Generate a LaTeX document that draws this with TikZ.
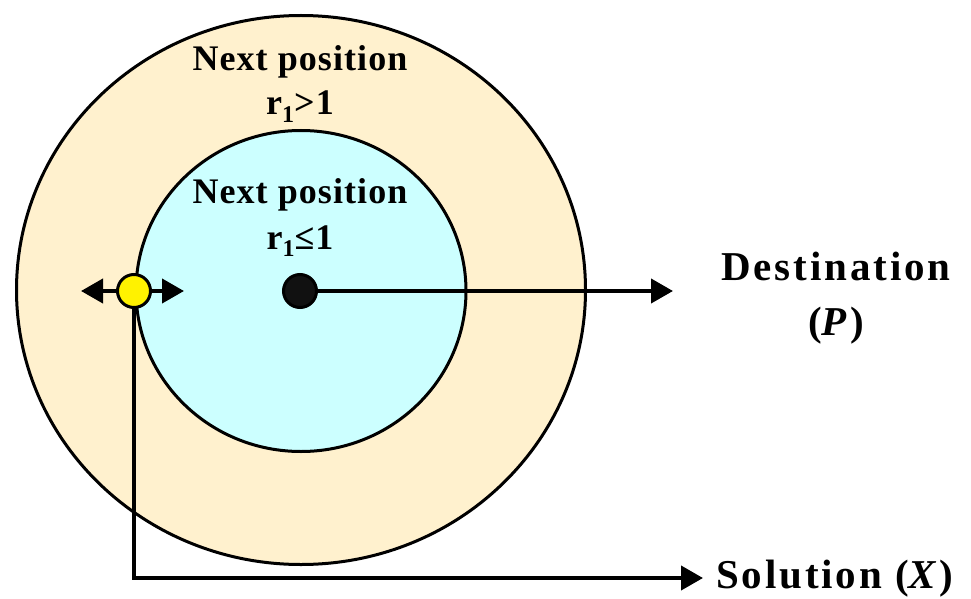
\documentclass[tikz,border=0pt]{standalone}
\usepackage{fontspec}
\setmainfont{Liberation Serif}
\usetikzlibrary{shapes.geometric,arrows.meta}
\definecolor{cream}{RGB}{255,241,206}
\definecolor{lightcyan}{RGB}{204,255,255}
\definecolor{dotblack}{RGB}{17,17,17}
\newcommand\subone{\raisebox{-7pt}{\fontsize{24}{24}\selectfont 1}}
\begin{document}
\begin{tikzpicture}[x=1pt,y=-1pt,
  ring/.style={draw=black,line width=3pt,ellipse,inner sep=0pt},
  dot/.style={circle,draw=black,line width=3pt,inner sep=0pt,minimum size=33pt},
  conn/.style={line width=4pt,-{Triangle[length=22pt,width=24pt]}},
  lbl/.style={font=\fontsize{36}{36}\selectfont\bfseries\addfontfeature{LetterSpace=3},anchor=base,inner sep=0pt},
  big/.style={font=\fontsize{41}{41}\selectfont\bfseries\addfontfeature{LetterSpace=7},anchor=base,inner sep=0pt}]
\useasboundingbox (0,0) rectangle (971,599);
\node[ring,fill=cream,minimum width=569pt,minimum height=549pt] (outer) at (301,290) {};
\node[ring,fill=lightcyan,minimum width=330pt,minimum height=321pt] (inner) at (301,291) {};
\node[dot,fill=dotblack] (dest) at (300,291) {};
\node[dot,fill=yellow] (sol) at (134,291) {};
\coordinate (destend) at (673,291);
\coordinate (lefttip) at (81,291);
\coordinate (righttip) at (184,291);
\coordinate (corner) at (134,578);
\coordinate (solend) at (703,578);
\draw[conn] (dest.east) -- (destend);
\draw[conn] (sol.west) -- (lefttip);
\draw[conn] (sol.east) -- (righttip);
\draw[conn] (sol.south) -- (corner) -- (solend);
\node[lbl] (o1) at (300,71) {Next position};
\node[lbl] (o2) at (300,115) {r\subone>1};
\node[lbl] (i1) at (300,203) {Next position};
\node[lbl] (i2) at (300,249) {r\subone≤1};
\node[big] (d1) at (836,280) {Destination};
\node[big] (d2) at (836,335) {(\textit{P})};
\node[big,anchor=base west] (s) at (716,588) {Solution (\textit{X})};
\end{tikzpicture}
\end{document}
